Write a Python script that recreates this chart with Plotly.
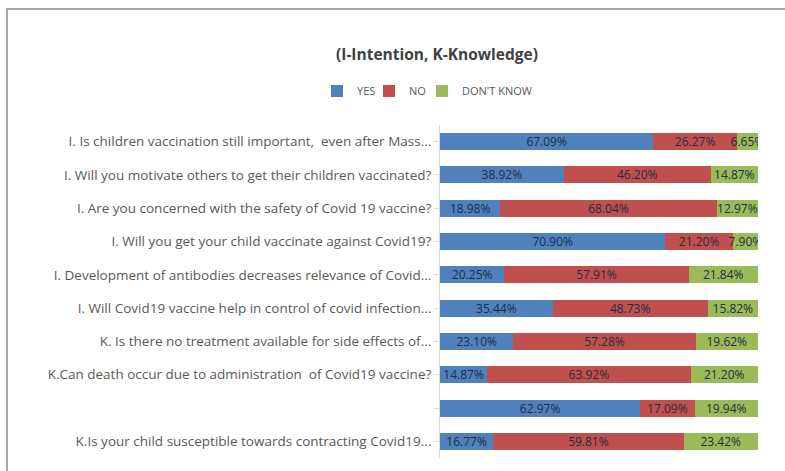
import plotly.graph_objects as go

categories = [
    "I. Is children vaccination still important,  even after Mass...",
    "I. Will you motivate others to get their children vaccinated?",
    "I. Are you concerned with the safety of Covid 19 vaccine?",
    "I. Will you get your child vaccinate against Covid19?",
    "I. Development of antibodies decreases relevance of Covid...",
    "I. Will Covid19 vaccine help in control of covid infection...",
    "K. Is there no treatment available for side effects of...",
    "K.Can death occur due to administration  of Covid19 vaccine?",
    " ",
    "K.Is your child susceptible towards contracting Covid19...",
]
yes_vals = [67.09, 38.92, 18.98, 70.90, 20.25, 35.44, 23.10, 14.87, 62.97, 16.77]
no_vals = [26.27, 46.20, 68.04, 21.20, 57.91, 48.73, 57.28, 63.92, 17.09, 59.81]
dk_vals = [6.65, 14.87, 12.97, 7.90, 21.84, 15.82, 19.62, 21.20, 19.94, 23.42]
series_names = ["YES", "NO", "DON'T KNOW"]
colors = ["#4F81BD", "#C0504D", "#9BBB59"]

W, H = 785, 471
L, R, T, B = 440, 27, 125, 13
pw, ph = W - L - R, H - T - B

def px_x(x):
    return (x - L) / pw

def px_y(y):
    return (H - B - y) / ph

legend_ids = ["legend", "legend2", "legend3"]
legend_x = [317, 369, 422]

fig = go.Figure()
for name, vals, col, lid in zip(series_names, [yes_vals, no_vals, dk_vals], colors, legend_ids):
    fig.add_trace(go.Bar(
        y=categories, x=vals, name=name, orientation="h", legend=lid,
        marker=dict(color=col, line=dict(width=0)),
        text=vals, texttemplate="%{x:.2f}%", textposition="inside",
        insidetextanchor="middle", textangle=0,
        textfont=dict(family="Open Sans", size=12, color="#1F2D44"),
    ))

legend_common = dict(orientation="h", yanchor="middle", xanchor="left",
                     font=dict(size=11, color="#595959"), itemwidth=30,
                     bgcolor="rgba(0,0,0,0)")
legends = {}
for lid, lx in zip(legend_ids, legend_x):
    legends[lid] = dict(legend_common, x=px_x(lx), y=px_y(91))

fig.update_layout(
    barmode="stack", bargap=0.49,
    width=W, height=H,
    margin=dict(l=L, r=R, t=T, b=B),
    paper_bgcolor="white", plot_bgcolor="white",
    font=dict(family="Open Sans", color="#595959"),
    uniformtext=dict(minsize=12, mode="show"),
    showlegend=True,
    xaxis=dict(range=[0, 100], visible=False),
    yaxis=dict(categoryorder="array", categoryarray=categories, autorange="reversed",
               showline=True, linecolor="#D9D9D9", ticks="outside", ticklen=5,
               tickcolor="#D9D9D9", tickfont=dict(size=13.5, color="#595959")),
    annotations=[dict(text="<b>(I-Intention, K-Knowledge)</b>", xref="paper", yref="paper",
                      x=px_x(437), y=px_y(54), xanchor="center", yanchor="middle",
                      showarrow=False, font=dict(size=15.5, color="#404040"))],
    shapes=[dict(type="line", xref="paper", yref="paper", x0=px_x(7), x1=px_x(7),
                 y0=px_y(471), y1=px_y(9), line=dict(color="#A6A6A6", width=2)),
            dict(type="line", xref="paper", yref="paper", x0=px_x(6), x1=px_x(785),
                 y0=px_y(9), y1=px_y(9), line=dict(color="#A6A6A6", width=2))],
    **legends,
)

fig.write_html("out.html")
